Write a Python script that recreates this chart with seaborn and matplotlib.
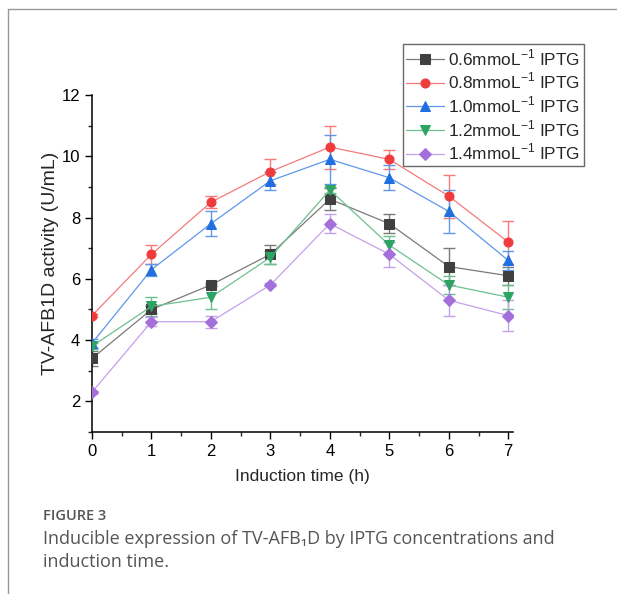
import matplotlib
matplotlib.use("Agg")
import matplotlib.pyplot as plt
from matplotlib.lines import Line2D
from matplotlib.ticker import MultipleLocator
import numpy as np
import pandas as pd
import seaborn as sns

# Induction time (h)
times = [0, 1, 2, 3, 4, 5, 6, 7]

# IPTG concentrations
concentrations = ["0.6", "0.8", "1.0", "1.2", "1.4"]

# Mean activity (U/mL) per concentration
act_06 = [3.4, 5.0, 5.8, 6.8, 8.6, 7.8, 6.4, 6.1]
act_08 = [4.8, 6.8, 8.5, 9.5, 10.3, 9.9, 8.7, 7.2]
act_10 = [3.9, 6.3, 7.8, 9.2, 9.9, 9.3, 8.2, 6.6]
act_12 = [3.8, 5.1, 5.4, 6.7, 8.9, 7.1, 5.8, 5.4]
act_14 = [2.3, 4.6, 4.6, 5.8, 7.8, 6.8, 5.3, 4.8]

# Error bars (SD)
err_06 = [0.25, 0.12, 0.05, 0.3, 0.35, 0.3, 0.6, 0.3]
err_08 = [0.05, 0.3, 0.2, 0.4, 0.7, 0.3, 0.7, 0.7]
err_10 = [0.15, 0.2, 0.4, 0.3, 0.8, 0.4, 0.7, 0.3]
err_12 = [0.1, 0.3, 0.4, 0.2, 0.1, 0.3, 0.3, 0.4]
err_14 = [0.05, 0.15, 0.2, 0.05, 0.3, 0.4, 0.5, 0.5]

means = [act_06, act_08, act_10, act_12, act_14]
errs = [err_06, err_08, err_10, err_12, err_14]

labels = [f"{c}mmoL$^{{\\mathregular{{-1}}}}$ IPTG" for c in concentrations]
marker_colors = ["#404040", "#ef3b3b", "#1f6fe0", "#2ea464", "#a56fdb"]
line_colors = ["#7a7a7a", "#f57a7a", "#5f97ea", "#6cc090", "#c4a0ea"]
marker_shapes = ["s", "o", "^", "v", "D"]
marker_sizes = [7.5, 8.5, 9, 9, 7.5]

rows = []
for lab, m in zip(labels, means):
    for t, v in zip(times, m):
        rows.append({"time": t, "activity": v, "conc": lab})
df = pd.DataFrame(rows)

sns.set_theme(style="ticks")
plt.rcParams["font.family"] = ["Liberation Sans", "DejaVu Sans"]
plt.rcParams["axes.unicode_minus"] = False

fig = plt.figure(figsize=(6.17, 5.94), dpi=100)
ax = fig.add_axes([92 / 617, 1 - 432 / 594, (513 - 92) / 617, (432 - 95) / 594])

for lab, m, e, mc, lc, mk, ms in zip(labels, means, errs, marker_colors,
                                     line_colors, marker_shapes, marker_sizes):
    ax.errorbar(times, m, yerr=e, fmt="none", ecolor=lc, elinewidth=1.0,
                capsize=4, capthick=1.0, zorder=2)
    sns.lineplot(data=df[df["conc"] == lab], x="time", y="activity", ax=ax,
                 color=lc, linewidth=0.9, marker=mk, markersize=ms,
                 markerfacecolor=mc, markeredgecolor=mc, label=lab,
                 zorder=3, errorbar=None)

ax.set_xlim(0, 7.08)
ax.set_ylim(1, 12)
ax.set_xticks(times)
ax.set_yticks([2, 4, 6, 8, 10, 12])
ax.xaxis.set_minor_locator(MultipleLocator(0.5))
ax.yaxis.set_minor_locator(MultipleLocator(1))
ax.tick_params(which="major", direction="out", length=5, width=1, labelsize=12,
               colors="black")
ax.tick_params(which="minor", direction="out", length=3, width=1)
for s in ["top", "right"]:
    ax.spines[s].set_visible(False)
for s in ["left", "bottom"]:
    ax.spines[s].set_linewidth(1.1)
    ax.spines[s].set_color("black")

ax.set_xlabel("Induction time (h)", fontsize=12.5, labelpad=7)
ax.set_ylabel("TV-AFB1D activity (U/mL)", fontsize=14, labelpad=2)

handles, hlabels = ax.get_legend_handles_labels()
for h in handles:
    h.set_markersize(6.5)
leg = ax.legend(handles, hlabels, loc="upper right",
                bbox_to_anchor=(584 / 617, 1 - 44 / 594),
                bbox_transform=fig.transFigure, fontsize=12.4, frameon=True,
                fancybox=False, edgecolor="#444444", handlelength=2.2,
                borderpad=0.2, labelspacing=0.18, handletextpad=0.25,
                borderaxespad=0)
leg.get_frame().set_linewidth(1.0)

# page card border (top and left rules)
fig.add_artist(Line2D([8 / 617, 1.0], [1 - 9 / 594, 1 - 9 / 594],
                      transform=fig.transFigure, color="#999999", linewidth=1))
fig.add_artist(Line2D([8 / 617, 8 / 617], [0, 1 - 9 / 594],
                      transform=fig.transFigure, color="#999999", linewidth=1))

# caption
cap_font = ["Open Sans", "DejaVu Sans"]
fig.text(43 / 617, 1 - 516 / 594, "FIGURE 3", fontsize=10.5, color="#555555",
         family=cap_font, va="center", fontweight="semibold")
fig.text(43 / 617, 1 - 539 / 594,
         "Inducible expression of TV-AFB\u2081D by IPTG concentrations and",
         fontsize=13, color="#555555", family=cap_font, va="center")
fig.text(43 / 617, 1 - 562 / 594, "induction time.", fontsize=13,
         color="#555555", family=cap_font, va="center")

fig.savefig("out.png", dpi=100)
